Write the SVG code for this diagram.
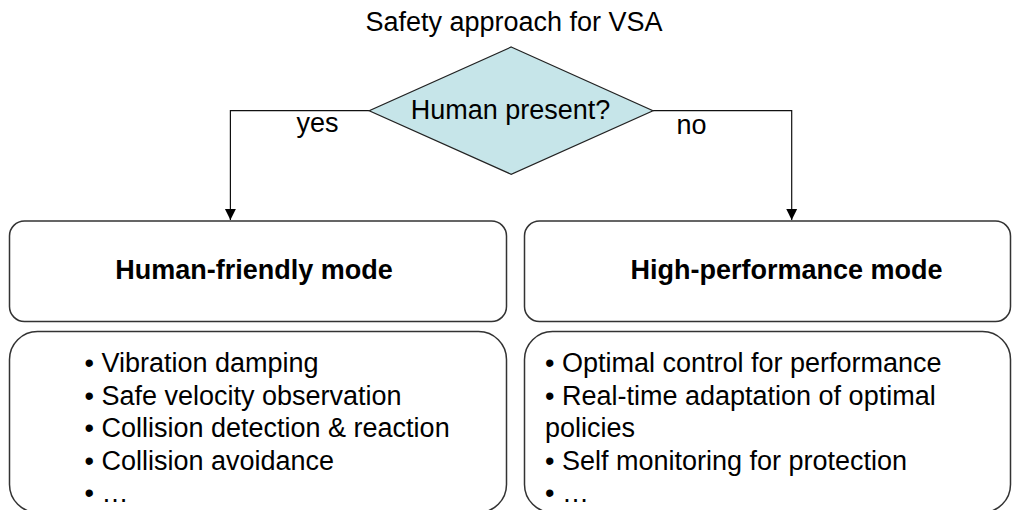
<svg xmlns="http://www.w3.org/2000/svg" width="1013" height="510" viewBox="0 0 1013 510">
<defs>
<style>
.t{font-family:"Liberation Sans",Arial,sans-serif;font-size:27px;fill:#000}
.b{font-weight:bold}
.box{fill:#fff;stroke:#333;stroke-width:1.5}
.ln{fill:none;stroke:#111;stroke-width:1.2}
</style>
<marker id="ah" markerWidth="12" markerHeight="12" refX="11.5" refY="6" orient="auto" markerUnits="userSpaceOnUse">
<path d="M0,0.3 L11.5,6 L0,11.7 Z" fill="#000"/>
</marker>
</defs>
<rect width="1013" height="510" fill="#fff"/>
<g id="title">
<text class="t" x="514" y="30.5" text-anchor="middle">Safety approach for VSA</text>
</g>
<g id="connectors">
<path class="ln" d="M369.2,110.7 H230.4 V220" marker-end="url(#ah)"/>
<path class="ln" d="M653,110.7 H791.7 V220" marker-end="url(#ah)"/>
<text class="t" x="317.5" y="132" text-anchor="middle">yes</text>
<text class="t" x="691.5" y="134.3" text-anchor="middle">no</text>
</g>
<g id="decision">
<polygon points="511.2,47 653,110.7 511.2,174.3 369.2,110.7" fill="#C6E5E9" stroke="#222" stroke-width="1.2"/>
<text class="t" x="510.5" y="119.3" text-anchor="middle">Human present?</text>
</g>
<g id="human-friendly">
<rect class="box" x="9.5" y="221" width="497" height="100.5" rx="15"/>
<text class="t b" x="254" y="279" text-anchor="middle">Human-friendly mode</text>
</g>
<g id="high-performance">
<rect class="box" x="524.5" y="221" width="486" height="100.5" rx="15"/>
<text class="t b" x="786.5" y="279" text-anchor="middle">High-performance mode</text>
</g>
<g id="human-friendly-list">
<rect class="box" x="9.5" y="331.5" width="497" height="181" rx="28"/>
<text class="t" x="84.5" y="372">• Vibration damping</text>
<text class="t" x="84.5" y="404.5">• Safe velocity observation</text>
<text class="t" x="84.5" y="437">• Collision detection &amp; reaction</text>
<text class="t" x="84.5" y="469.5">• Collision avoidance</text>
<text class="t" x="84.5" y="502">• …</text>
</g>
<g id="high-performance-list">
<rect class="box" x="524.5" y="331.5" width="486" height="181" rx="28"/>
<text class="t" x="545" y="372">• Optimal control for performance</text>
<text class="t" x="545" y="404.5">• Real-time adaptation of optimal</text>
<text class="t" x="545" y="437">policies</text>
<text class="t" x="545" y="469.5">• Self monitoring for protection</text>
<text class="t" x="545" y="502">• …</text>
</g>
</svg>
